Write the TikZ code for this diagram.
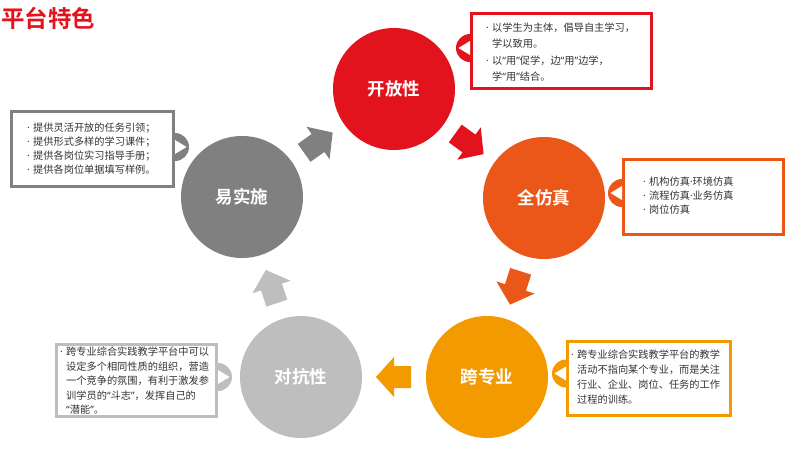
\documentclass[tikz,border=0pt]{standalone}
\usepackage{fontspec}
\setmainfont{Noto Sans CJK SC}[BoldFont=* Bold]
\newfontfamily\latf{Noto Sans}
\newcommand{\qo}{{\latf “}}
\newcommand{\qc}{{\latf ”}}
\newcommand{\mdot}{{\latf ·}}
\usetikzlibrary{calc}
\definecolor{cred}{HTML}{E3131E}
\definecolor{corange}{HTML}{EB5718}
\definecolor{camber}{HTML}{F39A00}
\definecolor{clgrey}{HTML}{BEBEBE}
\definecolor{cgrey}{HTML}{808080}
\definecolor{ctext}{HTML}{333333}
\begin{document}
\begin{tikzpicture}[x=1pt,y=1pt,
  circ/.style={circle, inner sep=0pt, minimum size=122pt, text=white, font=\fontsize{17.5}{20}\selectfont\bfseries},
  infobox/.style={draw=#1, line width=3pt, fill=white, inner sep=0pt},
  infotext/.style={anchor=west, align=left, inner sep=0pt, text=ctext, font=\fontsize{10.2}{#1}\selectfont},
  blockarrow/.pic={\fill[#1] (-17,-11) -- (0,-11) -- (0,-20) -- (18,0) -- (0,20) -- (0,11) -- (-17,11) -- cycle;},
  boxtab/.pic={\fill[#1] (0,-14) arc[start angle=-90,end angle=90,radius=14] -- cycle;
               \fill[white] (0,-7) -- (11.5,0) -- (0,7) -- cycle;}
]
\fill[white] (0,0) rectangle (788,-451);
\useasboundingbox (0,0) rectangle (788,-451);

% title
\node[text=cred, font=\fontsize{23.5}{26}\selectfont\bfseries, anchor=west, inner sep=0pt] (title) at (1,-18) {平台特色};

% circles
\node[circ, fill=cred]    (kf) at (394,-89)  {开放性};
\node[circ, fill=corange] (qf) at (544,-198) {全仿真};
\node[circ, fill=camber]  (kz) at (487,-377) {跨专业};
\node[circ, fill=clgrey]  (dk) at (301,-377) {对抗性};
\node[circ, fill=cgrey]   (ys) at (242,-197) {易实施};

% block arrows between circles
\path let \p1=($(kf)-(ys)$), \n1={atan2(\y1,\x1)} in pic[rotate=\n1] at ($(ys)!.5!(kf)$) {blockarrow=cgrey};
\path let \p1=($(qf)-(kf)$), \n1={atan2(\y1,\x1)} in pic[rotate=\n1] at ($(kf)!.5!(qf)$) {blockarrow=cred};
\path let \p1=($(kz)-(qf)$), \n1={atan2(\y1,\x1)} in pic[rotate=\n1] at ($(qf)!.5!(kz)$) {blockarrow=corange};
\path let \p1=($(dk)-(kz)$), \n1={atan2(\y1,\x1)} in pic[rotate=\n1] at ($(kz)!.5!(dk)$) {blockarrow=camber};
\path let \p1=($(ys)-(dk)$), \n1={atan2(\y1,\x1)} in pic[rotate=\n1] at ($(dk)!.5!(ys)$) {blockarrow=clgrey};

% boxes (centre line sizes)
\node[infobox=cred,    minimum width=180pt, minimum height=75pt] (tbox) at (561.5,-51)  {};
\node[infobox=cgrey,   minimum width=162pt, minimum height=75pt] (gbox) at (92.5,-149)  {};
\node[infobox=corange, minimum width=160pt, minimum height=75pt] (obox) at (703.5,-197) {};
\node[infobox=clgrey,  minimum width=160pt, minimum height=72pt] (lbox) at (136.5,-380.5) {};
\node[infobox=camber,  minimum width=163pt, minimum height=74pt] (abox) at (649,-378.5) {};

% tabs
\pic[rotate=180] at ($(tbox.west)+(0,3)$) {boxtab=cred};
\pic at ($(gbox.east)+(0,2)$) {boxtab=cgrey};
\pic[rotate=180] at ($(obox.west)+(0,4)$) {boxtab=corange};
\pic at ($(lbox.east)+(0,3.5)$) {boxtab=clgrey};
\pic[rotate=180] at ($(abox.west)+(0,5)$) {boxtab=camber};

% texts
\node[infotext=16] (ttext) at (486,-52) {\makebox[6pt][l]{\mdot}以学生为主体，倡导自主学习，\\\hspace*{6pt}学以致用。\\[1pt]\makebox[6pt][l]{\mdot}以\qo 用\qc 促学，边\qo 用\qc 边学，\\\hspace*{6pt}学\qo 用\qc 结合。};
\node[infotext=14] (gtext) at (27,-149) {\makebox[6pt][l]{\mdot}提供灵活开放的任务引领；\\\makebox[6pt][l]{\mdot}提供形式多样的学习课件；\\\makebox[6pt][l]{\mdot}提供各岗位实习指导手册；\\\makebox[6pt][l]{\mdot}提供各岗位单据填写样例。};
\node[infotext=14] (otext) at (643,-196) {\makebox[6pt][l]{\mdot}机构仿真\mdot 环境仿真\\\makebox[6pt][l]{\mdot}流程仿真\mdot 业务仿真\\\makebox[6pt][l]{\mdot}岗位仿真};
\node[infotext=14.5] (ltext) at (60,-381) {\makebox[6pt][l]{\mdot}跨专业综合实践教学平台中可以\\\hspace*{6pt}设定多个相同性质的组织，营造\\\hspace*{6pt}一个竞争的氛围，有利于激发参\\\hspace*{6pt}训学员的\qo 斗志\qc ，发挥自己的\\\hspace*{6pt}\qo 潜能\qc 。};
\node[infotext=15] (atext) at (571,-377.5) {\makebox[6pt][l]{\mdot}跨专业综合实践教学平台的教学\\\hspace*{6pt}活动不指向某个专业，而是关注\\\hspace*{6pt}行业、企业、岗位、任务的工作\\\hspace*{6pt}过程的训练。};
\end{tikzpicture}
\end{document}
